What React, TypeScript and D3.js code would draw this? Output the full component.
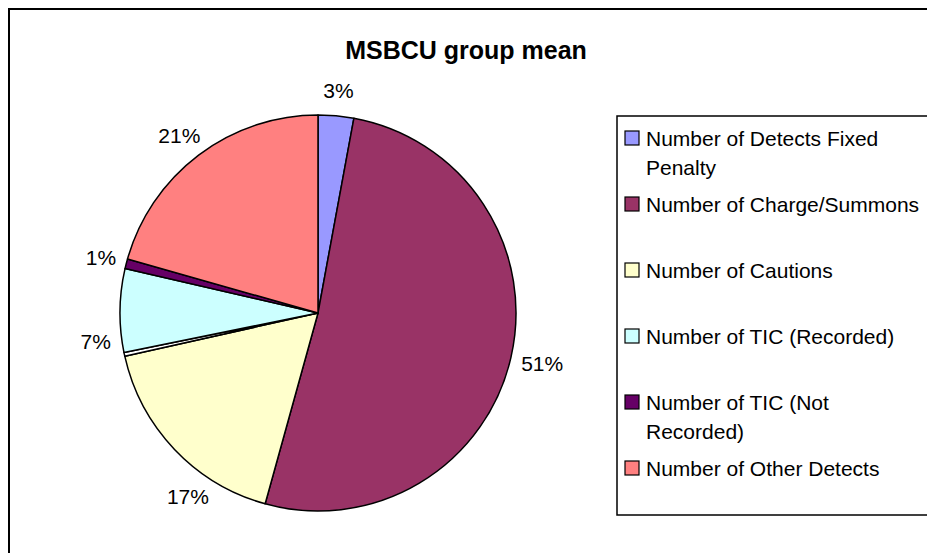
import React, { useEffect, useRef } from "react";
import * as d3 from "d3";

// slice shares (percent), clockwise from 12 o'clock
const categories = [
  "Number of Detects Fixed Penalty",
  "Number of Charge/Summons",
  "Number of Cautions",
  "",
  "Number of TIC (Recorded)",
  "Number of TIC (Not Recorded)",
  "Number of Other Detects",
];
const values = [2.9, 51.4, 17.2, 0.3, 6.8, 0.8, 20.6];
const colors = ["#9999FF", "#993366", "#FFFFCC", "#FFFFFF", "#CCFFFF", "#660066", "#FF8080"];
// how each legend entry wraps
const legendLines = [
  ["Number of Detects Fixed", "Penalty"],
  ["Number of Charge/Summons"],
  ["Number of Cautions"],
  [],
  ["Number of TIC (Recorded)"],
  ["Number of TIC (Not", "Recorded)"],
  ["Number of Other Detects"],
];
// labels Excel nudged away from the slice middle (degrees)
const labelNudge = [0, 0, -12, 0, -8, 0, 0];
const title = "MSBCU group mean";

const FONT = "'Liberation Sans', Arial, sans-serif";

export default function App() {
  const ref = useRef<SVGSVGElement>(null);

  useEffect(() => {
    const width = 927,
      height = 553;
    const svg = d3.select(ref.current).attr("width", width).attr("height", height);
    svg.selectAll("*").remove();

    // chart frame (runs off the right and bottom of the window)
    svg.append("rect")
      .attr("x", 9).attr("y", 9)
      .attr("width", 940).attr("height", 560)
      .attr("fill", "white").attr("stroke", "black").attr("stroke-width", 2);

    svg.append("text")
      .attr("x", 466).attr("y", 50)
      .attr("text-anchor", "middle").attr("dominant-baseline", "central")
      .style("font-family", FONT).style("font-size", "25px").style("font-weight", "bold")
      .text(title);

    const cx = 318, cy = 313, radius = 198;
    const g = svg.append("g").attr("transform", `translate(${cx},${cy})`);

    const data = values.map((v, i) => ({ name: categories[i], value: v, color: colors[i], nudge: labelNudge[i] }));
    const total = d3.sum(values);
    const pie = d3.pie<typeof data[0]>().sort(null).value((d) => d.value);
    const arcs = pie(data);
    const arc = d3.arc<d3.PieArcDatum<typeof data[0]>>().innerRadius(0).outerRadius(radius);

    g.selectAll("path.slice")
      .data(arcs)
      .enter()
      .append("path")
      .attr("class", "slice")
      .attr("d", arc)
      .attr("fill", (d) => d.data.color)
      .attr("stroke", "black")
      .attr("stroke-width", 1.5)
      .attr("stroke-linejoin", "round");

    // percentage labels just outside the rim
    const fs = 21;
    arcs.forEach((d) => {
      if (!d.data.name) return;
      const txt = Math.round((d.data.value / total) * 100) + "%";
      const a = (d.startAngle + d.endAngle) / 2 + (d.data.nudge * Math.PI) / 180;
      const sx = Math.sin(a), sy = -Math.cos(a);
      const w = (txt.length - 1) * 0.556 * fs + 0.889 * fs;
      const r = radius + 11;
      const x = r * sx + (w / 2) * sx;
      const y = r * sy + 14 * sy;
      g.append("text")
        .attr("x", x).attr("y", y)
        .attr("text-anchor", "middle").attr("dominant-baseline", "central")
        .style("font-family", FONT).style("font-size", fs + "px")
        .text(txt);
    });

    // legend
    const lg = svg.append("g");
    lg.append("rect")
      .attr("x", 617).attr("y", 116)
      .attr("width", 340).attr("height", 399)
      .attr("fill", "white").attr("stroke", "black").attr("stroke-width", 1.5);

    const entries = data.map((d, i) => ({ ...d, lines: legendLines[i] })).filter((d) => d.name);
    const yScale = d3.scaleLinear().domain([0, entries.length - 1]).range([138, 468]);

    entries.forEach((d, i) => {
      const y = yScale(i);
      lg.append("rect")
        .attr("x", 625).attr("y", y - 7)
        .attr("width", 14).attr("height", 14)
        .attr("fill", d.color).attr("stroke", "black").attr("stroke-width", 1.2);
      d.lines.forEach((line, j) => {
        lg.append("text")
          .attr("x", 646).attr("y", y + j * 29)
          .attr("dominant-baseline", "central")
          .style("font-family", FONT).style("font-size", fs + "px")
          .text(line);
      });
    });
  }, []);

  return <svg ref={ref} style={{ position: "absolute", left: 0, top: 0, background: "white" }}></svg>;
}
